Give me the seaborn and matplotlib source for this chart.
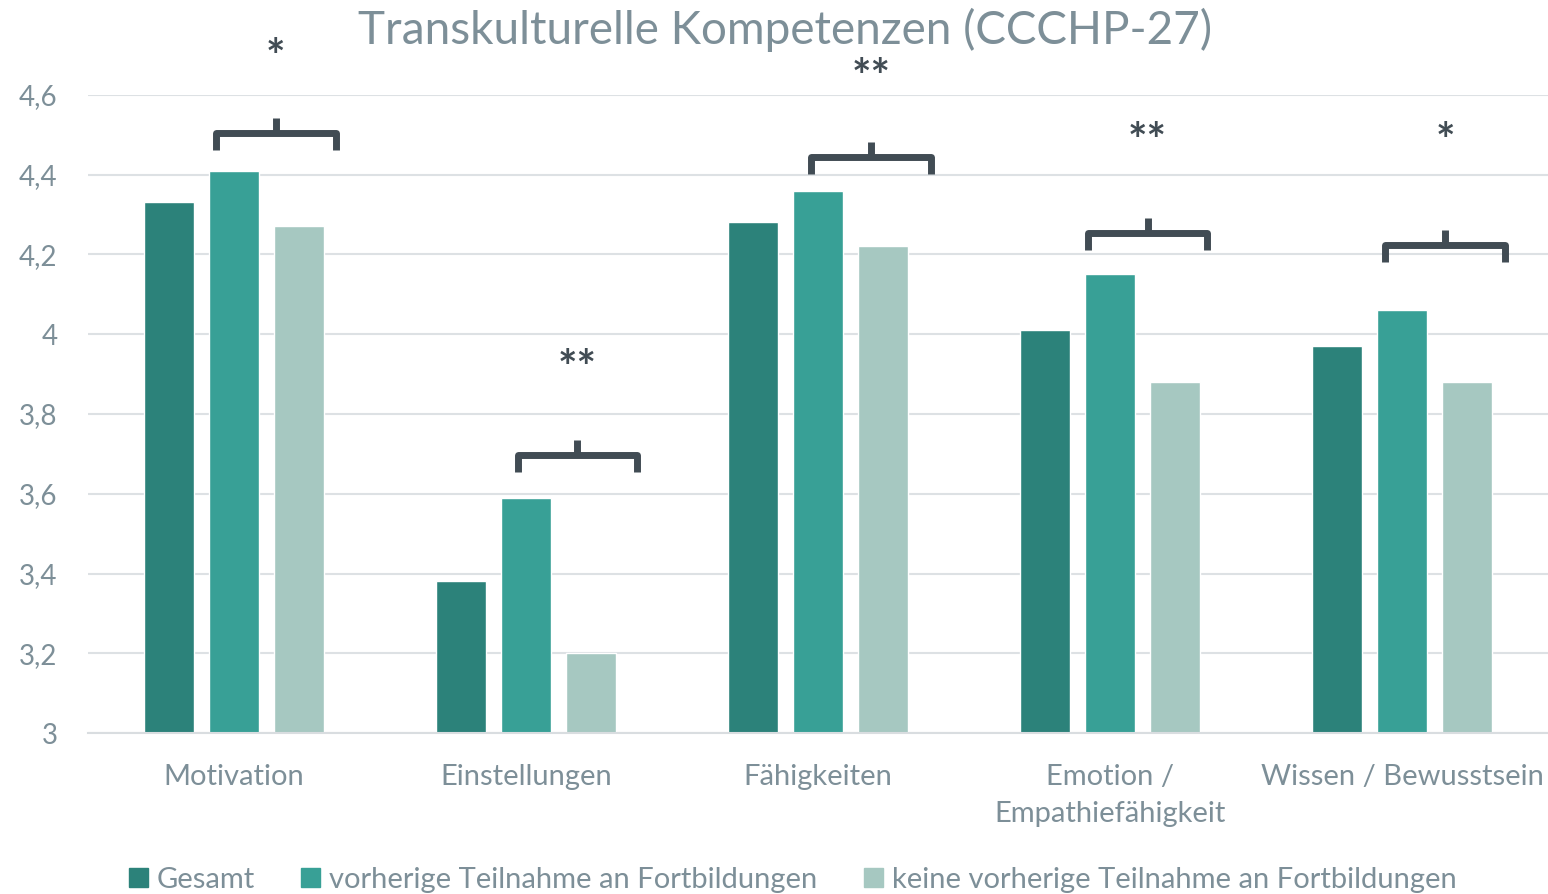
import numpy as np
import pandas as pd
import matplotlib.pyplot as plt
import seaborn as sns

categories = ["Motivation", "Einstellungen", "Fähigkeiten",
              "Emotion /\nEmpathiefähigkeit", "Wissen / Bewusstsein"]
series = ["Gesamt", "vorherige Teilnahme an Fortbildungen",
          "keine vorherige Teilnahme an Fortbildungen"]
gesamt = [4.33, 3.38, 4.28, 4.01, 3.97]
vorherige = [4.41, 3.59, 4.36, 4.15, 4.06]
keine = [4.27, 3.20, 4.22, 3.88, 3.88]
yticks = [3.0, 3.2, 3.4, 3.6, 3.8, 4.0, 4.2, 4.4, 4.6]
ytick_labels = ["3", "3,2", "3,4", "3,6", "3,8", "4", "4,2", "4,4", "4,6"]

# significance markers: brace span (relative to group centre), brace height, star height
sig_labels = ["*", "**", "**", "**", "*"]
brace_left = [-0.062, -0.027, -0.024, -0.075, -0.058]
brace_right = [0.349, 0.380, 0.387, 0.332, 0.353]
brace_y = [4.505, 3.697, 4.444, 4.254, 4.224]
star_y = [4.69, 3.91, 4.64, 4.48, 4.48]

colors = ["#2c827a", "#38a096", "#a6c8c1"]
text_col = "#7d8f98"
dark = "#414c54"

df = pd.DataFrame({
    "Kategorie": categories * 3,
    "Gruppe": [s for s in series for _ in categories],
    "Wert": gesamt + vorherige + keine,
})

sns.set_style("white")
plt.rcParams["font.family"] = ["Lato", "DejaVu Sans"]

fig = plt.figure(figsize=(15.48, 8.94), dpi=100)
ax = fig.add_axes([0.0568, 0.180, 0.9432, 0.714])

sns.barplot(data=df, x="Kategorie", y="Wert", hue="Gruppe", palette=colors,
            width=0.668, gap=0.23, ax=ax, legend=False, saturation=1)

ax.set_ylim(3.0, 4.6)
ax.set_xlim(-0.5, 4.5)
ax.set_yticks(yticks)
ax.set_yticklabels(ytick_labels)
ax.yaxis.grid(True, color="#dde1e4", linewidth=1.5)
ax.set_axisbelow(True)
for side in ["top", "right", "left"]:
    ax.spines[side].set_visible(False)
ax.spines["bottom"].set_color("#d9dde0")
ax.spines["bottom"].set_linewidth(1.5)
ax.tick_params(axis="both", length=0, labelcolor=text_col)
ax.tick_params(axis="y", pad=22, labelsize=20)
ax.tick_params(axis="x", pad=22, labelsize=21)
ax.set_xlabel("")
ax.set_ylabel("")
for lbl in ax.get_xticklabels():
    lbl.set_linespacing(1.55)

drop, tick = 0.043, 0.038
for i in range(len(categories)):
    x0, x1 = i + brace_left[i], i + brace_right[i]
    xc = (x0 + x1) / 2
    y = brace_y[i]
    ax.plot([x0, x0, x1, x1], [y - drop, y, y, y - drop], color=dark, lw=5,
            solid_joinstyle="round", solid_capstyle="butt", clip_on=False)
    ax.plot([xc, xc], [y, y + tick], color=dark, lw=5,
            solid_capstyle="butt", clip_on=False)
    ax.text(xc, star_y[i], sig_labels[i], ha="center", va="center",
            fontsize=33, fontweight="bold", color=dark, clip_on=False)

fig.text(0.507, 0.966, "Transkulturelle Kompetenzen (CCCHP-27)", ha="center",
         va="center", fontsize=33, color=text_col)

handles = [plt.Rectangle((0, 0), 1, 1, color=c) for c in colors]
fig.legend(handles, series, loc="lower center", bbox_to_anchor=(0.512, -0.028),
           ncol=3, frameon=False, fontsize=21, labelcolor=text_col,
           handlelength=0.65, handleheight=0.65, handletextpad=0.3,
           columnspacing=1.6)

fig.savefig("out.png", dpi=100)
